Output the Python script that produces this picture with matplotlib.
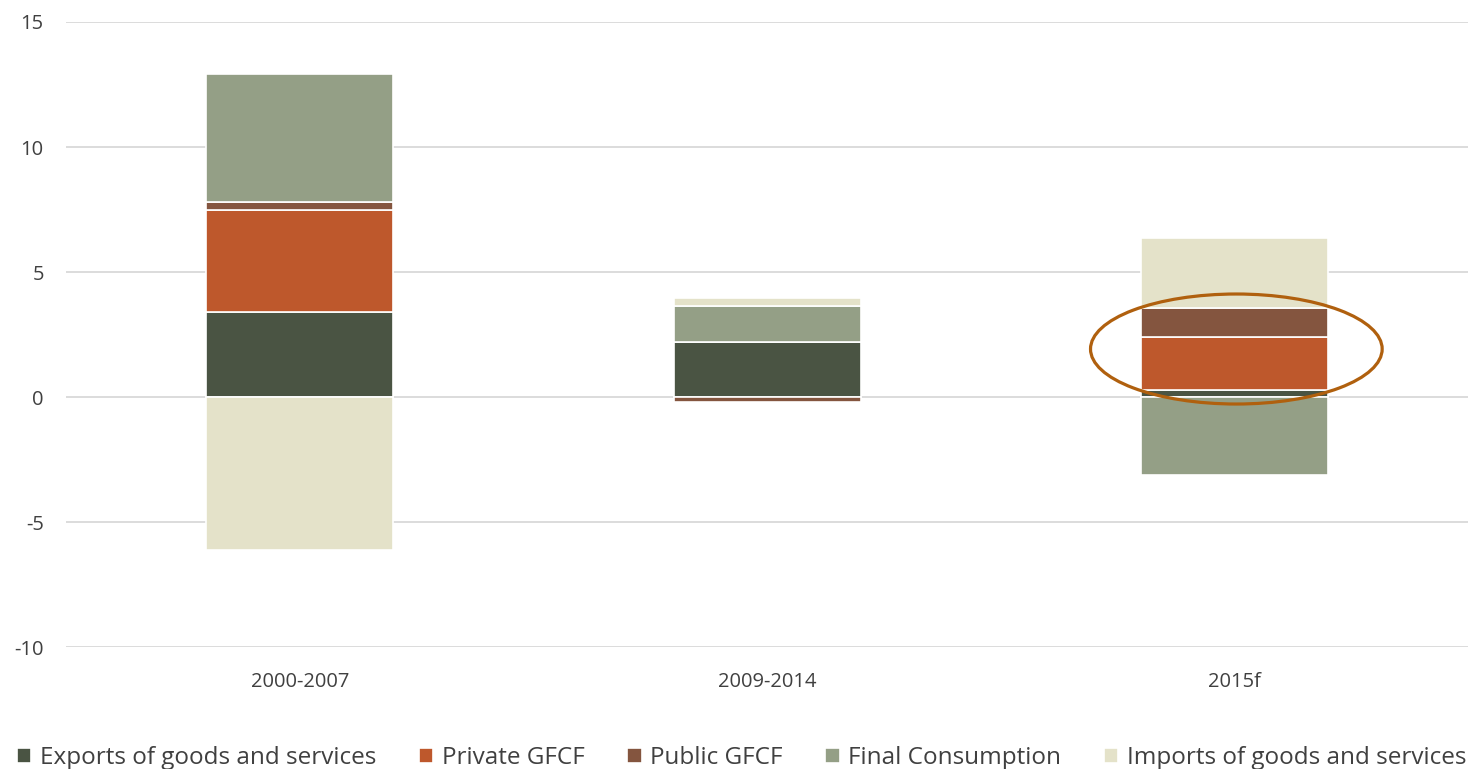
import numpy as np
import matplotlib.pyplot as plt
from matplotlib.patches import Ellipse

periods = ['2000-2007', '2009-2014', '2015f']
series = ['Exports of goods and services', 'Private GFCF', 'Public GFCF',
          'Final Consumption', 'Imports of goods and services']
exports = [3.4, 2.2, 0.28]
private_gfcf = [4.1, 0.0, 2.12]
public_gfcf = [0.3, -0.2, 1.16]
final_cons = [5.1, 1.45, -3.1]
imports = [-6.1, 0.3, 2.8]
colors = ['#4A5443', '#BE582C', '#84553F', '#949F86', '#E4E2C9']

plt.rcParams['font.family'] = ['Open Sans', 'DejaVu Sans']
plt.rcParams['axes.unicode_minus'] = False

fig = plt.figure(figsize=(14.83, 7.69), dpi=100)
ax = fig.add_axes([0.0445, 0.1586, 0.9455, 0.8128])

x = np.arange(len(periods))
pos_base = np.zeros(len(periods))
neg_base = np.zeros(len(periods))
for name, vals, col in zip(series, [exports, private_gfcf, public_gfcf, final_cons, imports], colors):
    vals = np.array(vals)
    bottom = np.where(vals >= 0, pos_base, neg_base)
    ax.bar(x, vals, 0.4, bottom=bottom, color=col, edgecolor='white', linewidth=1.2,
           label=name, zorder=3)
    pos_base = pos_base + np.where(vals >= 0, vals, 0)
    neg_base = neg_base + np.where(vals < 0, vals, 0)

# highlight of the 2015 investment contribution
ax.add_patch(Ellipse((2.004, 1.92), 0.624, 4.4, fill=False, edgecolor='#B0600E',
                     linewidth=2.3, zorder=4))

ax.set_xlim(-0.5, 2.5)
ax.set_ylim(-10, 15)
ax.set_yticks(range(-10, 16, 5))
ax.set_xticks(x)
ax.set_xticklabels(periods)
ax.tick_params(axis='both', length=0, labelsize=14.5, colors='#404040', pad=16)
ax.tick_params(axis='x', pad=18)
ax.grid(axis='y', color='#D9D9D9', linewidth=1.3, zorder=0)
for s in ax.spines.values():
    s.set_visible(False)

fig.legend(loc='lower center', bbox_to_anchor=(0.5, -0.03), ncol=5, frameon=False,
           fontsize=17.5, handlelength=0.6, handleheight=0.6, handletextpad=0.35,
           columnspacing=1.75, labelcolor='#404040')

plt.savefig('out.png', dpi=100)
